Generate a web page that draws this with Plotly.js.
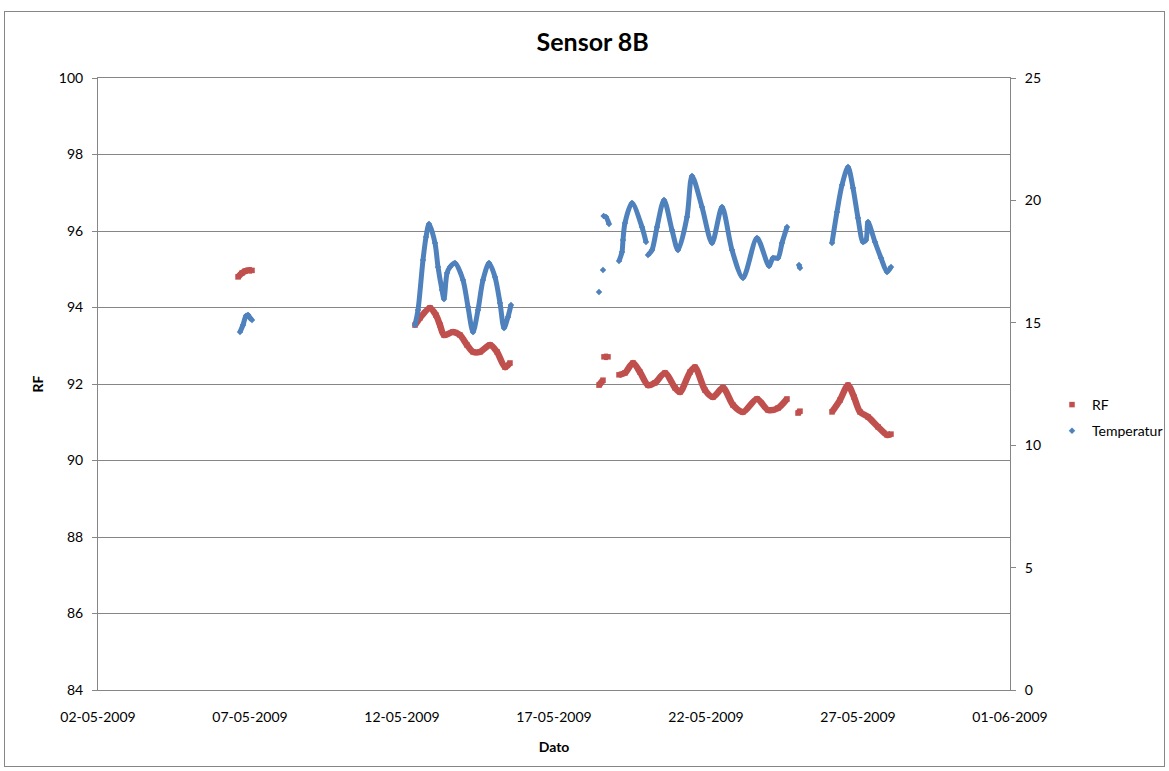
<!DOCTYPE html>
<html>
<head>
<meta charset="utf-8">
<script src="https://cdn.plot.ly/plotly-3.0.1.min.js"></script>
<style>
  html, body { margin: 0; padding: 0; background: #fff; }
  #frame { position: absolute; left: 4px; top: 11px; width: 1161px; height: 756px; border: 1px solid #868686; box-sizing: border-box; }
  #chart { position: absolute; left: 0; top: 0; width: 1169px; height: 771px; }
</style>
</head>
<body>
<div id="frame"></div>
<div id="chart"></div>
<script>
// ---- Data (null = gap in the logging) ----
const tempTime = [
  '2009-05-06 16:06','2009-05-06 18:28','2009-05-06 20:50','2009-05-06 22:25','2009-05-07 00:00','2009-05-07 01:35', null,
  '2009-05-12 10:16','2009-05-12 12:38','2009-05-12 16:35','2009-05-12 18:57','2009-05-12 21:19','2009-05-13 02:03',
  '2009-05-13 04:25','2009-05-13 07:35','2009-05-13 09:09','2009-05-13 11:32','2009-05-13 13:54','2009-05-13 17:51',
  '2009-05-14 00:09','2009-05-14 04:06','2009-05-14 08:03','2009-05-14 12:00','2009-05-14 15:57','2009-05-14 20:41',
  '2009-05-15 01:25','2009-05-15 05:22','2009-05-15 08:32','2009-05-15 11:41','2009-05-15 14:03', null,
  '2009-05-18 11:32', null,
  '2009-05-18 14:41', null,
  '2009-05-18 15:10','2009-05-18 17:03','2009-05-18 19:25', null,
  '2009-05-19 03:19','2009-05-19 05:41','2009-05-19 06:28','2009-05-19 08:03','2009-05-19 13:35','2009-05-19 21:28','2009-05-20 00:38', null,
  '2009-05-20 02:13','2009-05-20 05:22','2009-05-20 09:19','2009-05-20 14:50','2009-05-20 21:09','2009-05-21 01:54',
  '2009-05-21 09:00','2009-05-21 12:57','2009-05-21 20:50','2009-05-22 04:44','2009-05-22 12:38','2009-05-22 20:32',
  '2009-05-23 05:13','2009-05-23 16:16','2009-05-24 01:44','2009-05-24 04:53','2009-05-24 08:50','2009-05-24 12:00','2009-05-24 15:57', null,
  '2009-05-25 01:25','2009-05-25 02:13', null,
  '2009-05-26 03:28','2009-05-26 07:25','2009-05-26 11:22','2009-05-26 16:06','2009-05-26 20:03','2009-05-27 00:00',
  '2009-05-27 03:57','2009-05-27 06:19','2009-05-27 07:54','2009-05-27 13:25','2009-05-27 18:09','2009-05-27 22:54','2009-05-28 02:03'
];
const tempValue = [
  14.62, 14.91, 15.28, 15.32, 15.20, 15.11, null,
  14.91, 15.52, 17.57, 18.50, 19.04, 18.26,
  17.28, 16.34, 15.97, 17.03, 17.28, 17.44,
  16.75, 15.65, 14.62, 15.52, 16.75, 17.44,
  16.87, 15.81, 14.79, 15.24, 15.73, null,
  16.26, null,
  17.16, null,
  19.36, 19.32, 19.04, null,
  17.52, 17.89, 18.38, 19.08, 19.89, 18.91, 18.30, null,
  17.77, 17.97, 18.91, 20.02, 18.79, 17.97,
  19.32, 21.00, 19.73, 18.26, 19.73, 17.97,
  16.83, 18.46, 17.32, 17.65, 17.65, 18.26, 18.91, null,
  17.36, 17.24, null,
  18.26, 19.53, 20.63, 21.36, 20.51, 19.28,
  18.30, 18.38, 19.12, 18.30, 17.65, 17.08, 17.28
];
const rfTime = [
  '2009-05-06 14:32','2009-05-06 17:41','2009-05-06 20:03','2009-05-06 22:25','2009-05-07 01:35', null,
  '2009-05-12 10:16','2009-05-12 14:13','2009-05-12 22:06','2009-05-13 02:50','2009-05-13 06:00','2009-05-13 09:09',
  '2009-05-13 16:16','2009-05-13 21:47','2009-05-14 03:19','2009-05-14 08:03','2009-05-14 13:35','2009-05-14 21:28',
  '2009-05-15 03:00','2009-05-15 09:19','2009-05-15 13:16', null,
  '2009-05-18 11:32','2009-05-18 14:41', null,
  '2009-05-18 15:28','2009-05-18 18:38', null,
  '2009-05-19 03:19','2009-05-19 08:03','2009-05-19 14:22','2009-05-19 19:54','2009-05-20 02:13','2009-05-20 07:44',
  '2009-05-20 15:38','2009-05-20 23:32','2009-05-21 03:28','2009-05-21 11:22','2009-05-21 15:19','2009-05-21 23:13',
  '2009-05-22 05:32','2009-05-22 13:25','2009-05-22 21:19','2009-05-23 05:13','2009-05-23 16:16','2009-05-24 00:57',
  '2009-05-24 08:50','2009-05-24 15:57', null,
  '2009-05-25 00:38','2009-05-25 02:13', null,
  '2009-05-26 03:28','2009-05-26 09:47','2009-05-26 16:06','2009-05-26 20:50','2009-05-27 01:35','2009-05-27 07:54',
  '2009-05-27 15:47','2009-05-27 22:54','2009-05-28 02:03'
];
const rfValue = [
  94.80, 94.90, 94.95, 94.97, 94.97, null,
  93.54, 93.73, 93.99, 93.80, 93.54, 93.28,
  93.36, 93.28, 93.02, 92.84, 92.84, 93.02,
  92.84, 92.44, 92.55, null,
  91.97, 92.10, null,
  92.71, 92.71, null,
  92.24, 92.29, 92.55, 92.31, 91.97, 92.03,
  92.29, 91.90, 91.79, 92.31, 92.44, 91.84,
  91.66, 91.90, 91.45, 91.27, 91.61, 91.32,
  91.37, 91.61, null,
  91.24, 91.29, null,
  91.27, 91.58, 91.97, 91.66, 91.27, 91.14,
  90.88, 90.67, 90.69
];
const seriesNames = ['RF', 'Temperatur'];
const xTickStart = '2009-05-02';
const xRange = ['2009-05-02', '2009-06-01'];
const rfRange = [84, 100];
const tempRange = [0, 25];

const RED = '#C0504D', BLUE = '#4F81BD';
const FONT = 'Lato, "Open Sans", "Liberation Sans", sans-serif';

const traces = [
  { x: rfTime, y: rfValue, type: 'scatter', mode: 'lines', yaxis: 'y',
    line: { color: RED, width: 6.5, shape: 'spline', smoothing: 0.8 },
    connectgaps: false, showlegend: false, hoverinfo: 'skip', legendgroup: 'rf' },
  { x: rfTime, y: rfValue, type: 'scatter', mode: 'markers', yaxis: 'y', name: seriesNames[0],
    marker: { symbol: 'square', size: 5.5, color: RED }, legendgroup: 'rf' },
  { x: tempTime, y: tempValue, type: 'scatter', mode: 'lines', yaxis: 'y2',
    line: { color: BLUE, width: 5, shape: 'spline', smoothing: 0.8 },
    connectgaps: false, showlegend: false, hoverinfo: 'skip', legendgroup: 'temp' },
  { x: tempTime, y: tempValue, type: 'scatter', mode: 'markers', yaxis: 'y2', name: seriesNames[1],
    marker: { symbol: 'diamond', size: 5, color: BLUE }, legendgroup: 'temp' }
];

const layout = {
  width: 1169, height: 771,
  margin: { l: 98, r: 159, t: 78, b: 81, pad: 0, autoexpand: false },
  paper_bgcolor: 'rgba(0,0,0,0)', plot_bgcolor: 'rgba(0,0,0,0)',
  font: { family: FONT, size: 14, color: '#000' },
  title: { text: '<b>Sensor 8B</b>', font: { family: FONT, size: 25, color: '#000' },
           x: 0.507, xref: 'container', xanchor: 'center', y: 1 - 42/771, yref: 'container', yanchor: 'middle' },
  xaxis: {
    type: 'date', range: xRange, tick0: xTickStart, dtick: 5 * 86400000, tickformat: '%d-%m-%Y',
    showgrid: false, showline: true, mirror: true, linecolor: '#868686', linewidth: 1,
    ticks: '', ticklabelstandoff: 14, zeroline: false, automargin: false,
    title: { text: '<b>Dato</b>', font: { family: FONT, size: 14 }, standoff: 18 }
  },
  yaxis: {
    range: rfRange, dtick: 2, showgrid: true, gridcolor: '#868686', gridwidth: 1,
    showline: true, linecolor: '#868686', ticks: 'outside', ticklen: 5, tickcolor: '#868686',
    ticklabelstandoff: 6, zeroline: false, automargin: false,
    title: { text: '<b>RF</b>', font: { family: FONT, size: 14 }, standoff: 11 }
  },
  yaxis2: {
    overlaying: 'y', side: 'right', range: tempRange, dtick: 5, showgrid: false,
    showline: true, linecolor: '#868686', ticks: 'outside', ticklen: 5, tickcolor: '#868686',
    ticklabelstandoff: 6, zeroline: false, automargin: false
  },
  legend: {
    x: (1052 - 98) / 912, xanchor: 'left', y: (690 - 389) / 612, yanchor: 'top',
    traceorder: 'grouped', tracegroupgap: 5, font: { family: FONT, size: 14 },
    bgcolor: 'rgba(0,0,0,0)', itemwidth: 30
  },
  showlegend: true
};

Plotly.newPlot('chart', traces, layout, { staticPlot: true, displayModeBar: false });
</script>
</body>
</html>
